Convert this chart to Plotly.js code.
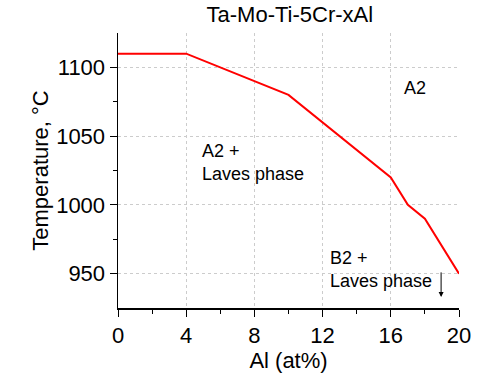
<!DOCTYPE html>
<html><head><meta charset="utf-8">
<script src="https://cdn.plot.ly/plotly-3.0.1.min.js"></script>
<style>body{margin:0;background:#fff}#c{width:498px;height:375px}</style>
</head><body><div id="c"></div>
<script>
var alContent = [0, 4, 10, 16, 17, 18, 20];
var temperature = [1110, 1110, 1080, 1020, 1000, 990, 950];
var xTicks = [0, 4, 8, 12, 16, 20];
var yTicks = [950, 1000, 1050, 1100];

var trace = {x: alContent, y: temperature, mode: 'lines', line: {color: '#ff0000', width: 2}, hoverinfo: 'skip'};
var F = 'Arial, Liberation Sans, sans-serif';
var layout = {
  width: 498, height: 375,
  margin: {l: 118, r: 39, t: 33, b: 67},
  paper_bgcolor: '#fff', plot_bgcolor: '#fff',
  showlegend: false,
  title: {text: 'Ta-Mo-Ti-5Cr-xAl', font: {family: F, size: 22, color: '#000'}, x: 0.582, xanchor: 'center', y: 0.963, yanchor: 'middle'},
  xaxis: {range: [0, 20], tickvals: xTicks, ticks: 'outside', ticklen: 7, tickcolor: '#000', tickwidth: 1,
    showline: true, linecolor: '#000', linewidth: 1.5, zeroline: false,
    showgrid: true, gridcolor: '#cccccc', griddash: 'dot', gridwidth: 1,
    tickfont: {family: F, size: 22, color: '#000'},
    minor: {tickvals: [2, 6, 10, 14, 18], ticks: 'outside', ticklen: 4, tickcolor: '#000', showgrid: false},
    title: {text: 'Al (at%)', font: {family: F, size: 22, color: '#000'}, standoff: 4}},
  yaxis: {range: [925, 1125], tickvals: yTicks, ticks: 'outside', ticklen: 7, tickcolor: '#000', tickwidth: 1,
    showline: true, linecolor: '#000', linewidth: 1.5, zeroline: false,
    showgrid: true, gridcolor: '#cccccc', griddash: 'dot', gridwidth: 1,
    tickfont: {family: F, size: 22, color: '#000'},
    minor: {tickvals: [975, 1025, 1075], ticks: 'outside', ticklen: 4, tickcolor: '#000', showgrid: false},
    title: {text: 'Temperature, °C', font: {family: F, size: 22, color: '#000'}, standoff: 1}},
  annotations: [
    {x: 16.65, y: 1085, xref: 'x', yref: 'y', text: 'A2', showarrow: false, xanchor: 'left', yanchor: 'middle', font: {family: F, size: 18, color: '#000'}},
    {x: 4.8, y: 1048, xref: 'x', yref: 'y', text: 'A2 +<br>Laves phase', showarrow: false, align: 'left', xanchor: 'left', yanchor: 'top', font: {family: F, size: 18, color: '#000'}},
    {x: 12.3, y: 970, xref: 'x', yref: 'y', text: 'B2 +<br>Laves phase', showarrow: false, align: 'left', xanchor: 'left', yanchor: 'top', font: {family: F, size: 18, color: '#000'}},
    {x: 18.95, y: 933, ax: 18.95, ay: 952, xref: 'x', yref: 'y', axref: 'x', ayref: 'y', text: '', showarrow: true, arrowhead: 2, arrowsize: 1, arrowwidth: 1, arrowcolor: '#000'}
  ]
};
Plotly.newPlot('c', [trace], layout, {displayModeBar: false, staticPlot: true});
</script></body></html>
